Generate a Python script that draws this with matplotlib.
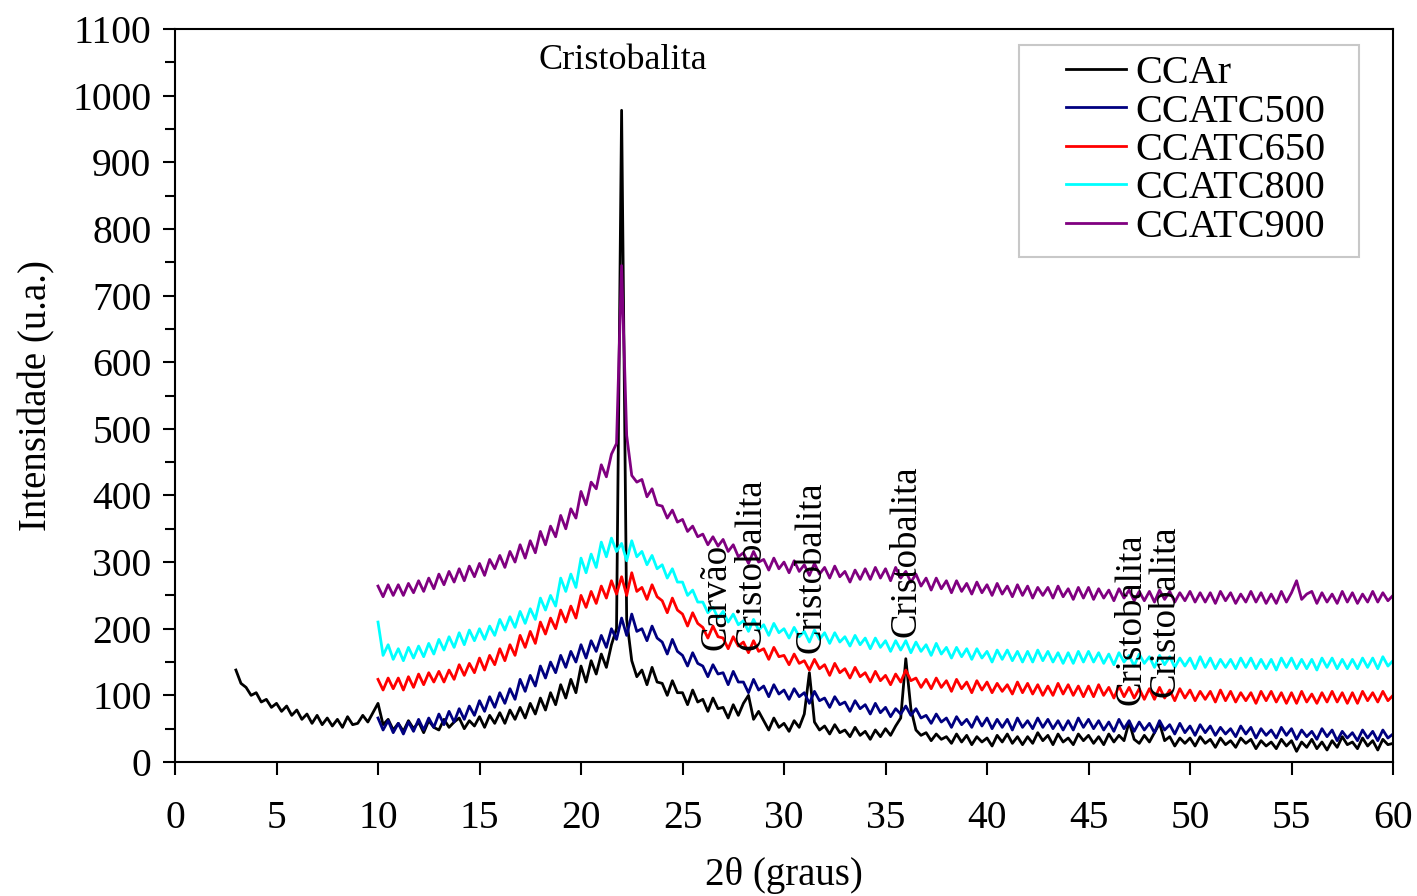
import numpy as np
import matplotlib
matplotlib.use("Agg")
import matplotlib.pyplot as plt
from matplotlib.patches import Rectangle
from matplotlib.ticker import MultipleLocator

plt.rcParams['font.family'] = ['Liberation Serif', 'DejaVu Serif']

# 2theta scan grids (0.25 degree steps)
theta_ccar = np.arange(3.0, 60.001, 0.25)
theta_ccatc = np.arange(10.0, 60.001, 0.25)

# intensities, one row per degree (4 points per row)
ccar = [
    138, 118, 112, 100,  104, 90, 94, 82,  88, 76, 84, 70,  78, 64, 72, 58,
    70, 56, 66, 54,  64, 52, 68, 56,  58, 70, 60, 74,  88, 56, 64, 48,
    58, 46, 62, 50,  60, 44, 62, 52,  48, 64, 52, 60,  66, 50, 62, 54,
    68, 52, 70, 58,  74, 58, 78, 64,  82, 66, 88, 72,  96, 78, 104, 86,
    116, 96, 124, 104,  144, 120, 152, 132,  162, 142, 176, 200,  978, 214, 152, 128,
    138, 116, 142, 120,  118, 100, 122, 104,  104, 86, 108, 90,  94, 76, 96, 80,
    82, 66, 86, 70,  88, 100, 64, 76,  62, 48, 66, 52,  58, 46, 62, 52,
    72, 134, 60, 48,  54, 42, 56, 44,  48, 38, 52, 40,  46, 34, 48, 38,
    50, 40, 54, 66,  155, 80, 48, 40,  44, 32, 42, 34,  38, 28, 42, 30,
    40, 26, 38, 30,  36, 24, 40, 30,  42, 28, 38, 26,  38, 28, 44, 32,
    40, 26, 42, 30,  36, 26, 42, 32,  40, 28, 38, 26,  42, 30, 40, 32,
    60, 34, 28, 40,  30, 44, 58, 32,  38, 24, 36, 28,  36, 24, 38, 28,
    34, 22, 36, 26,  32, 22, 36, 28,  34, 20, 32, 24,  30, 20, 34, 24,
    32, 16, 30, 22,  34, 20, 30, 18,  32, 22, 38, 26,  30, 20, 36, 24,
    32, 18, 34, 26,  28,
]
ccatc500 = [
    66, 48, 62, 44,  58, 42, 60, 46,  64, 48, 66, 52,  72, 56, 76, 60,
    80, 64, 84, 70,  92, 76, 98, 82,  104, 88, 110, 94,  124, 106, 130, 114,
    144, 126, 150, 134,  160, 142, 166, 150,  176, 156, 182, 166,  190, 172, 200, 184,
    216, 190, 222, 196,  200, 182, 204, 186,  180, 162, 184, 166,  160, 144, 164, 148,
    144, 128, 146, 132,  134, 116, 136, 120,  120, 104, 124, 108,  114, 98, 116, 102,
    108, 94, 110, 98,  104, 88, 106, 92,  96, 82, 98, 86,  90, 76, 92, 80,
    86, 72, 88, 74,  82, 68, 80, 72,  84, 70, 80, 66,  70, 58, 72, 60,
    66, 52, 68, 56,  64, 52, 68, 54,  66, 50, 64, 52,  64, 48, 66, 52,
    62, 50, 66, 52,  64, 50, 62, 48,  62, 48, 66, 52,  64, 50, 62, 48,
    60, 46, 64, 50,  62, 46, 60, 48,  58, 44, 62, 48,  56, 42, 58, 44,
    54, 40, 56, 44,  54, 40, 52, 42,  50, 38, 54, 42,  52, 36, 50, 40,
    48, 36, 52, 40,  50, 34, 48, 38,  46, 34, 50, 38,  48, 32, 46, 36,
    44, 32, 48, 36,  46, 32, 48, 36,  42,
]
ccatc650 = [
    124, 108, 126, 110,  126, 108, 128, 112,  132, 116, 134, 120,  136, 120, 138, 124,
    146, 130, 148, 134,  156, 138, 160, 146,  170, 152, 176, 160,  190, 172, 196, 178,
    210, 192, 216, 200,  228, 210, 234, 216,  250, 232, 256, 238,  264, 246, 272, 252,
    278, 250, 284, 256,  262, 244, 266, 248,  242, 224, 246, 228,  222, 204, 224, 208,
    202, 186, 204, 188,  186, 170, 188, 174,  180, 164, 182, 166,  170, 154, 172, 158,
    160, 146, 162, 148,  152, 138, 154, 140,  146, 130, 148, 134,  140, 126, 142, 128,
    134, 120, 136, 122,  130, 116, 132, 120,  138, 122, 126, 112,  124, 110, 126, 112,
    122, 106, 124, 110,  120, 104, 122, 108,  120, 104, 118, 106,  116, 102, 120, 104,
    118, 102, 116, 100,  114, 100, 118, 102,  116, 100, 114, 98,  114, 98, 116, 100,
    112, 96, 114, 98,  112, 96, 110, 94,  110, 94, 112, 96,  108, 92, 110, 96,
    108, 92, 106, 94,  106, 90, 108, 92,  106, 90, 104, 92,  104, 88, 106, 92,
    106, 90, 104, 88,  104, 88, 106, 90,  102, 88, 104, 90,  106, 90, 104, 88,
    104, 88, 106, 92,  104, 90, 106, 92,  100,
]
ccatc800 = [
    210, 160, 176, 154,  170, 152, 172, 156,  174, 158, 178, 162,  184, 168, 188, 172,
    194, 176, 198, 182,  200, 184, 204, 190,  214, 198, 218, 202,  226, 208, 230, 214,
    246, 228, 250, 234,  276, 256, 282, 262,  306, 284, 312, 292,  330, 308, 336, 316,
    328, 302, 332, 308,  316, 296, 310, 290,  296, 276, 290, 270,  270, 250, 258, 240,
    240, 224, 232, 216,  226, 210, 222, 206,  212, 196, 214, 198,  206, 190, 208, 194,
    200, 186, 202, 188,  196, 180, 198, 184,  194, 178, 194, 180,  188, 174, 190, 176,
    186, 170, 186, 172,  182, 166, 182, 168,  182, 164, 180, 166,  176, 160, 178, 162,
    172, 156, 172, 158,  170, 154, 170, 156,  166, 150, 168, 154,  168, 152, 166, 150,
    166, 150, 168, 152,  166, 150, 164, 148,  164, 148, 166, 150,  166, 150, 164, 148,
    162, 146, 164, 150,  160, 144, 162, 148,  158, 142, 160, 146,  158, 142, 156, 144,
    156, 140, 158, 142,  156, 140, 154, 142,  154, 140, 156, 142,  156, 140, 154, 140,
    154, 138, 156, 142,  156, 140, 154, 140,  154, 138, 156, 142,  156, 140, 154, 140,
    154, 140, 156, 142,  156, 140, 158, 144,  152,
]
ccatc900 = [
    264, 248, 266, 250,  266, 250, 268, 254,  272, 256, 276, 260,  282, 266, 286, 270,
    290, 272, 294, 278,  298, 280, 304, 290,  310, 292, 316, 300,  326, 306, 332, 314,
    346, 326, 354, 338,  370, 350, 380, 366,  406, 386, 420, 410,  446, 428, 462, 478,
    745, 490, 430, 420,  424, 398, 410, 386,  384, 366, 378, 360,  364, 346, 354, 338,
    342, 326, 338, 324,  334, 316, 326, 308,  314, 298, 316, 300,  304, 288, 306, 290,
    300, 284, 302, 286,  296, 280, 298, 282,  292, 276, 294, 278,  286, 270, 288, 274,
    290, 274, 292, 276,  290, 272, 292, 276,  286, 270, 282, 264,  276, 258, 276, 260,
    272, 254, 272, 256,  268, 252, 270, 254,  266, 250, 268, 252,  264, 248, 266, 250,
    264, 246, 262, 250,  262, 246, 264, 248,  260, 244, 262, 246,  262, 244, 260, 246,
    258, 242, 260, 246,  258, 242, 256, 242,  256, 240, 258, 244,  256, 240, 254, 242,
    256, 240, 254, 240,  254, 238, 256, 242,  254, 238, 252, 240,  256, 240, 254, 238,
    252, 238, 256, 240,  254, 272, 244, 252,  256, 238, 254, 240,  252, 238, 256, 240,
    254, 238, 252, 240,  256, 240, 254, 242,  250,
]

series_labels = ['CCAr', 'CCATC500', 'CCATC650', 'CCATC800', 'CCATC900']
series_colors = ['black', '#000080', '#ff0000', '#00ffff', '#800080']

# peak annotations: (2theta, intensity at text bottom)
peak_names = ['Carvão', 'Cristobalita', 'Cristobalita', 'Cristobalita', 'Cristobalita', 'Cristobalita']
peak_pos = [26.65, 28.4, 31.35, 36.0, 47.1, 48.8]
peak_base = [168, 168, 164, 188, 86, 98]

fig = plt.figure(figsize=(14.17, 8.96), dpi=100)
ax = fig.add_axes([175 / 1417, 134 / 896, 1218 / 1417, 733 / 896])

ax.plot(theta_ccar, ccar, color=series_colors[0], lw=2.0, label=series_labels[0])
for y, lab, col in zip([ccatc500, ccatc650, ccatc800, ccatc900], series_labels[1:], series_colors[1:]):
    ax.plot(theta_ccatc, y, color=col, lw=2.0, label=lab)

ax.text(22.07, 1053, 'Cristobalita', fontsize=26, ha='center', va='center')
for name, px, py in zip(peak_names, peak_pos, peak_base):
    ax.text(px, py, name, fontsize=26.5, rotation=90, ha='center', va='bottom')

ax.set_xlim(0, 60)
ax.set_ylim(0, 1100)
ax.xaxis.set_major_locator(MultipleLocator(5))
ax.yaxis.set_major_locator(MultipleLocator(100))
ax.yaxis.set_minor_locator(MultipleLocator(50))
ax.tick_params(axis='both', which='major', labelsize=28.5, width=1.5, length=9, direction='out')
ax.tick_params(axis='y', which='minor', width=1.5, length=7)
ax.tick_params(axis='x', pad=18)
ax.tick_params(axis='y', pad=8)
for sp in ax.spines.values():
    sp.set_linewidth(1.5)

ax.set_xlabel('2θ (graus)', fontsize=28, labelpad=15)
ax.set_ylabel('Intensidade (u.a.)', fontsize=28, labelpad=12)

# legend with its own frame
ax.add_patch(Rectangle((1019 / 1417, 1 - 257 / 896), 340 / 1417, 212 / 896,
                       transform=fig.transFigure, facecolor='white',
                       edgecolor='#c8c8c8', lw=1.5, zorder=5))
leg = ax.legend(loc='upper left', bbox_to_anchor=(1066 / 1417, 1 - 55 / 896),
                bbox_transform=fig.transFigure, frameon=False, fontsize=29,
                borderpad=0, borderaxespad=0, handlelength=1.5,
                handletextpad=0.22, labelspacing=0.03)
leg.set_zorder(6)

fig.savefig('out.png', dpi=100)
